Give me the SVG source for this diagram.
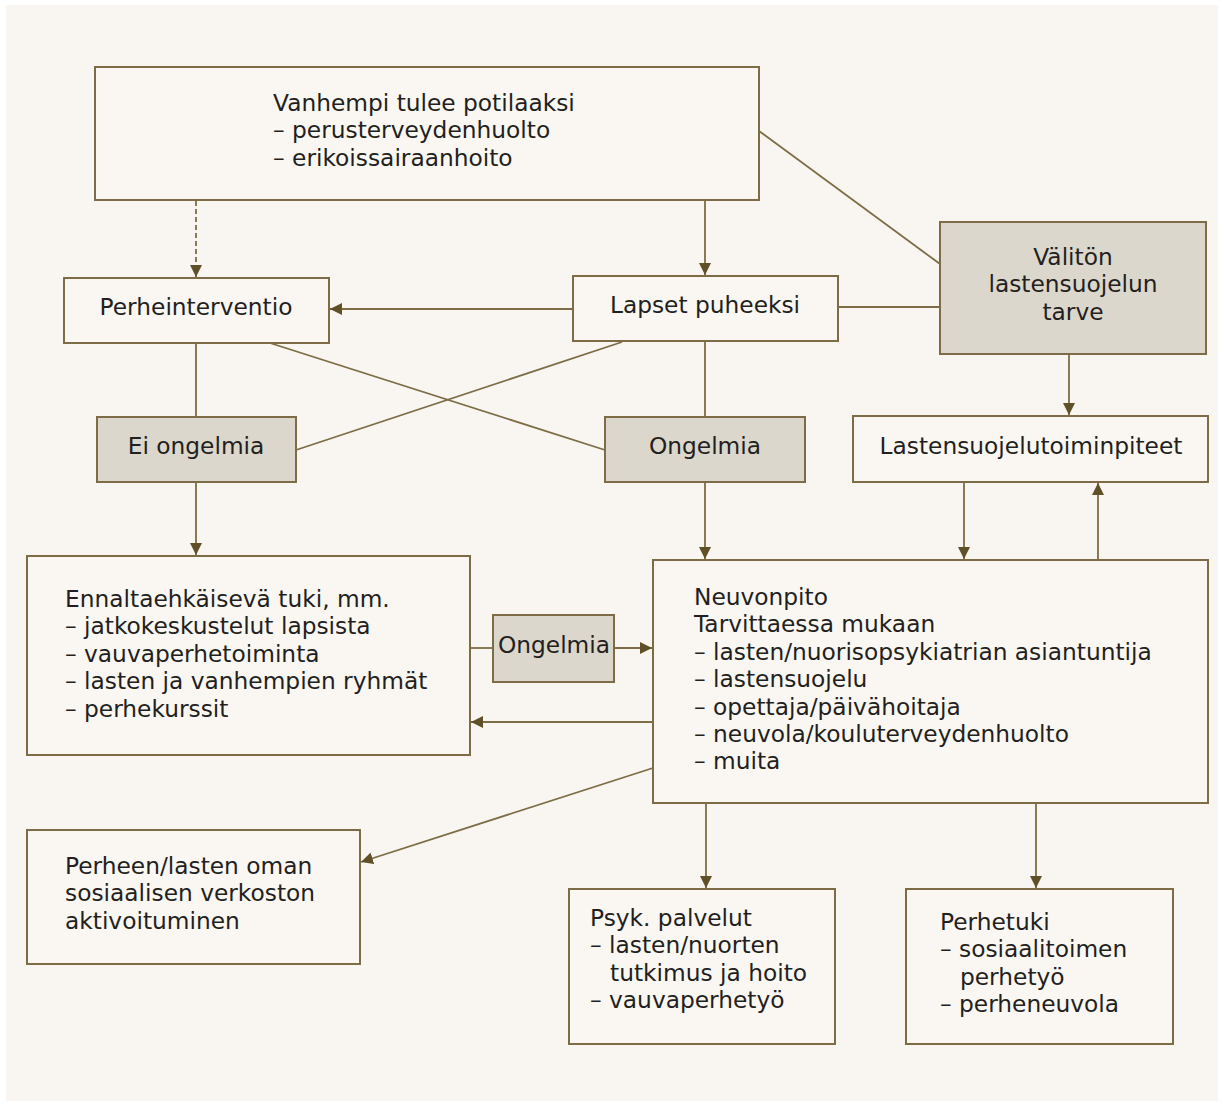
<svg xmlns="http://www.w3.org/2000/svg" width="1224" height="1104" viewBox="0 0 1224 1104">
<defs>
<marker id="ah" viewBox="0 0 12 12" refX="12" refY="6" markerWidth="12" markerHeight="12" markerUnits="userSpaceOnUse" orient="auto">
<path d="M0,0 L12,6 L0,12 Z" fill="#5f5027"/>
</marker>
<style>
.bx{fill:#faf7f2;stroke:#7d6c45;stroke-width:2}
.gy{fill:#dcd7cc;stroke:#7d6c45;stroke-width:2}
.t{font-family:"DejaVu Sans","Liberation Sans",sans-serif;font-size:23.3px;fill:#231f20}
.c{text-anchor:middle}
.ln{stroke:#7d6c45;stroke-width:1.8;fill:none}
.ar{marker-end:url(#ah)}
.da{stroke-dasharray:5,3}
</style>
</defs>
<rect x="0" y="0" width="1224" height="1104" fill="#ffffff"/>
<rect x="6" y="5" width="1212" height="1096" fill="#f9f6f1"/>

<g id="connectors">
<line class="ln ar da" x1="196" y1="201" x2="196" y2="277"/>
<line class="ln ar" x1="705" y1="201" x2="705" y2="275"/>
<line class="ln" x1="759" y1="131" x2="940" y2="264"/>
<line class="ln" x1="838" y1="307" x2="940" y2="307"/>
<line class="ln ar" x1="573" y1="309" x2="330" y2="309"/>
<line class="ln" x1="196" y1="343" x2="196" y2="417"/>
<line class="ln" x1="270" y1="343" x2="605" y2="450"/>
<line class="ln" x1="622" y1="342" x2="296" y2="450"/>
<line class="ln" x1="705" y1="341" x2="705" y2="417"/>
<line class="ln ar" x1="1069" y1="355" x2="1069" y2="415"/>
<line class="ln ar" x1="196" y1="483" x2="196" y2="555"/>
<line class="ln ar" x1="705" y1="483" x2="705" y2="559"/>
<line class="ln ar" x1="964" y1="483" x2="964" y2="559"/>
<line class="ln ar" x1="1098" y1="560" x2="1098" y2="483"/>
<line class="ln" x1="470" y1="648" x2="493" y2="648"/>
<line class="ln ar" x1="614" y1="648" x2="652" y2="648"/>
<line class="ln ar" x1="653" y1="722" x2="471" y2="722"/>
<line class="ln ar" x1="653" y1="768" x2="361" y2="862"/>
<line class="ln ar" x1="706" y1="804" x2="706" y2="888"/>
<line class="ln ar" x1="1036" y1="804" x2="1036" y2="888"/>
</g>

<g id="n-vanhempi">
<rect class="bx" x="95" y="67" width="664" height="133"/>
<text class="t" x="273" y="111">Vanhempi tulee potilaaksi</text>
<text class="t" x="273" y="138.4">– perusterveydenhuolto</text>
<text class="t" x="273" y="165.8">– erikoissairaanhoito</text>
</g>

<g id="n-perheinterventio">
<rect class="bx" x="64" y="278" width="265" height="65"/>
<text class="t c" x="196" y="315">Perheinterventio</text>
</g>

<g id="n-lapset">
<rect class="bx" x="573" y="276" width="265" height="65"/>
<text class="t c" x="705" y="313">Lapset puheeksi</text>
</g>

<g id="n-valiton">
<rect class="gy" x="940" y="222" width="266" height="132"/>
<text class="t c" x="1073" y="265">Välitön</text>
<text class="t c" x="1073" y="292.4">lastensuojelun</text>
<text class="t c" x="1073" y="319.8">tarve</text>
</g>

<g id="n-eiongelmia">
<rect class="gy" x="97" y="417" width="199" height="65"/>
<text class="t c" x="196" y="454">Ei ongelmia</text>
</g>

<g id="n-ongelmia">
<rect class="gy" x="605" y="417" width="200" height="65"/>
<text class="t c" x="705" y="454">Ongelmia</text>
</g>

<g id="n-lastensuojelutoim">
<rect class="bx" x="853" y="416" width="355" height="66"/>
<text class="t c" x="1031" y="454">Lastensuojelutoiminpiteet</text>
</g>

<g id="n-ennalta">
<rect class="bx" x="27" y="556" width="443" height="199"/>
<text class="t" x="65" y="607">Ennaltaehkäisevä tuki, mm.</text>
<text class="t" x="65" y="634.4">– jatkokeskustelut lapsista</text>
<text class="t" x="65" y="661.8">– vauvaperhetoiminta</text>
<text class="t" x="65" y="689.2">– lasten ja vanhempien ryhmät</text>
<text class="t" x="65" y="716.6">– perhekurssit</text>
</g>

<g id="n-ongelmia2">
<rect class="gy" x="493" y="615" width="121" height="67"/>
<text class="t c" x="554" y="653">Ongelmia</text>
</g>

<g id="n-neuvonpito">
<rect class="bx" x="653" y="560" width="555" height="243"/>
<text class="t" x="694" y="605">Neuvonpito</text>
<text class="t" x="694" y="632.4">Tarvittaessa mukaan</text>
<text class="t" x="694" y="659.8">– lasten/nuorisopsykiatrian asiantuntija</text>
<text class="t" x="694" y="687.2">– lastensuojelu</text>
<text class="t" x="694" y="714.6">– opettaja/päivähoitaja</text>
<text class="t" x="694" y="742">– neuvola/kouluterveydenhuolto</text>
<text class="t" x="694" y="769.4">– muita</text>
</g>

<g id="n-perheen">
<rect class="bx" x="27" y="830" width="333" height="134"/>
<text class="t" x="65" y="874">Perheen/lasten oman</text>
<text class="t" x="65" y="901.4">sosiaalisen verkoston</text>
<text class="t" x="65" y="928.8">aktivoituminen</text>
</g>

<g id="n-psyk">
<rect class="bx" x="569" y="889" width="266" height="155"/>
<text class="t" x="590" y="926">Psyk. palvelut</text>
<text class="t" x="590" y="953.4">– lasten/nuorten</text>
<text class="t" x="610" y="980.8">tutkimus ja hoito</text>
<text class="t" x="590" y="1008.2">– vauvaperhetyö</text>
</g>

<g id="n-perhetuki">
<rect class="bx" x="906" y="889" width="267" height="155"/>
<text class="t" x="940" y="930">Perhetuki</text>
<text class="t" x="940" y="957.4">– sosiaalitoimen</text>
<text class="t" x="960" y="984.8">perhetyö</text>
<text class="t" x="940" y="1012.2">– perheneuvola</text>
</g>
</svg>
